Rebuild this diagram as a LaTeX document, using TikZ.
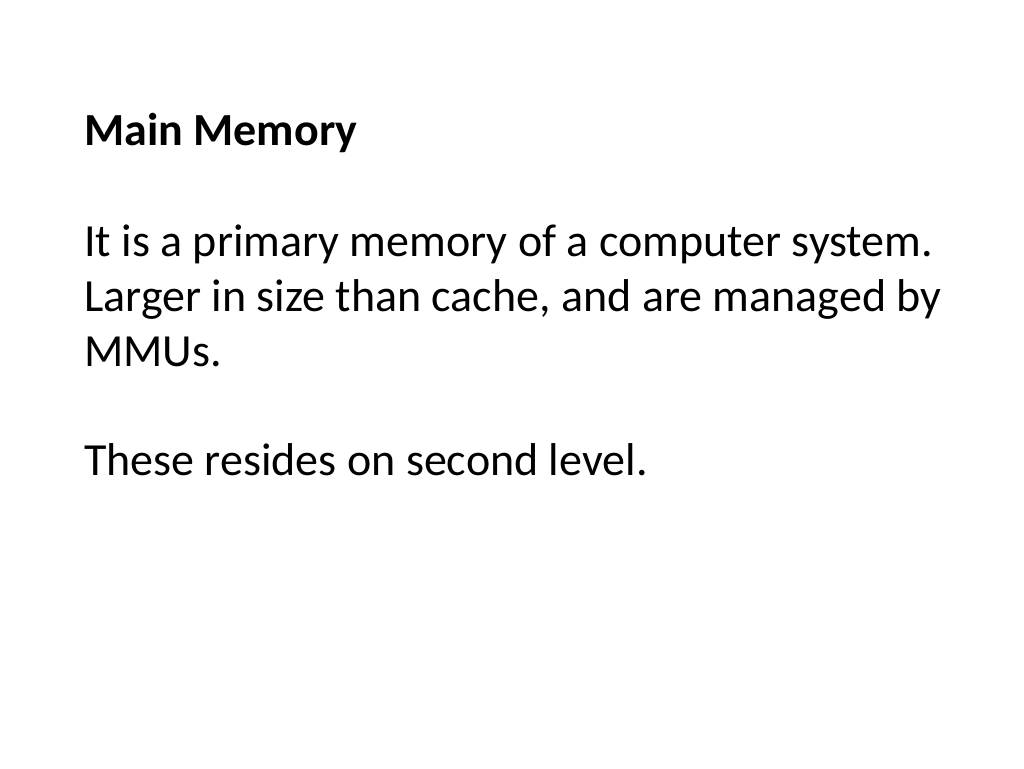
\documentclass[tikz,border=0pt]{standalone}
\usepackage{fontspec}
\setmainfont{Carlito}
\begin{document}
\begin{tikzpicture}[x=1pt,y=-1pt,
      line/.style={anchor=base west, inner sep=0pt, font=\fontsize{46}{55}\selectfont}]
      \useasboundingbox[fill=white] (0,0) rectangle (1024,768);
      \node[line,font=\fontsize{46}{55}\selectfont\bfseries](title) at (84,145){Main Memory};
      \node[line](l1) at (84,256){It is a primary memory of a computer system.};
      \node[line](l2) at (84,311){Larger in size than cache, and are managed by};
      \node[line](l3) at (84,366){MMUs.};
      \node[line](l4) at (84,475){These resides on second level.};
    \end{tikzpicture}
\end{document}
